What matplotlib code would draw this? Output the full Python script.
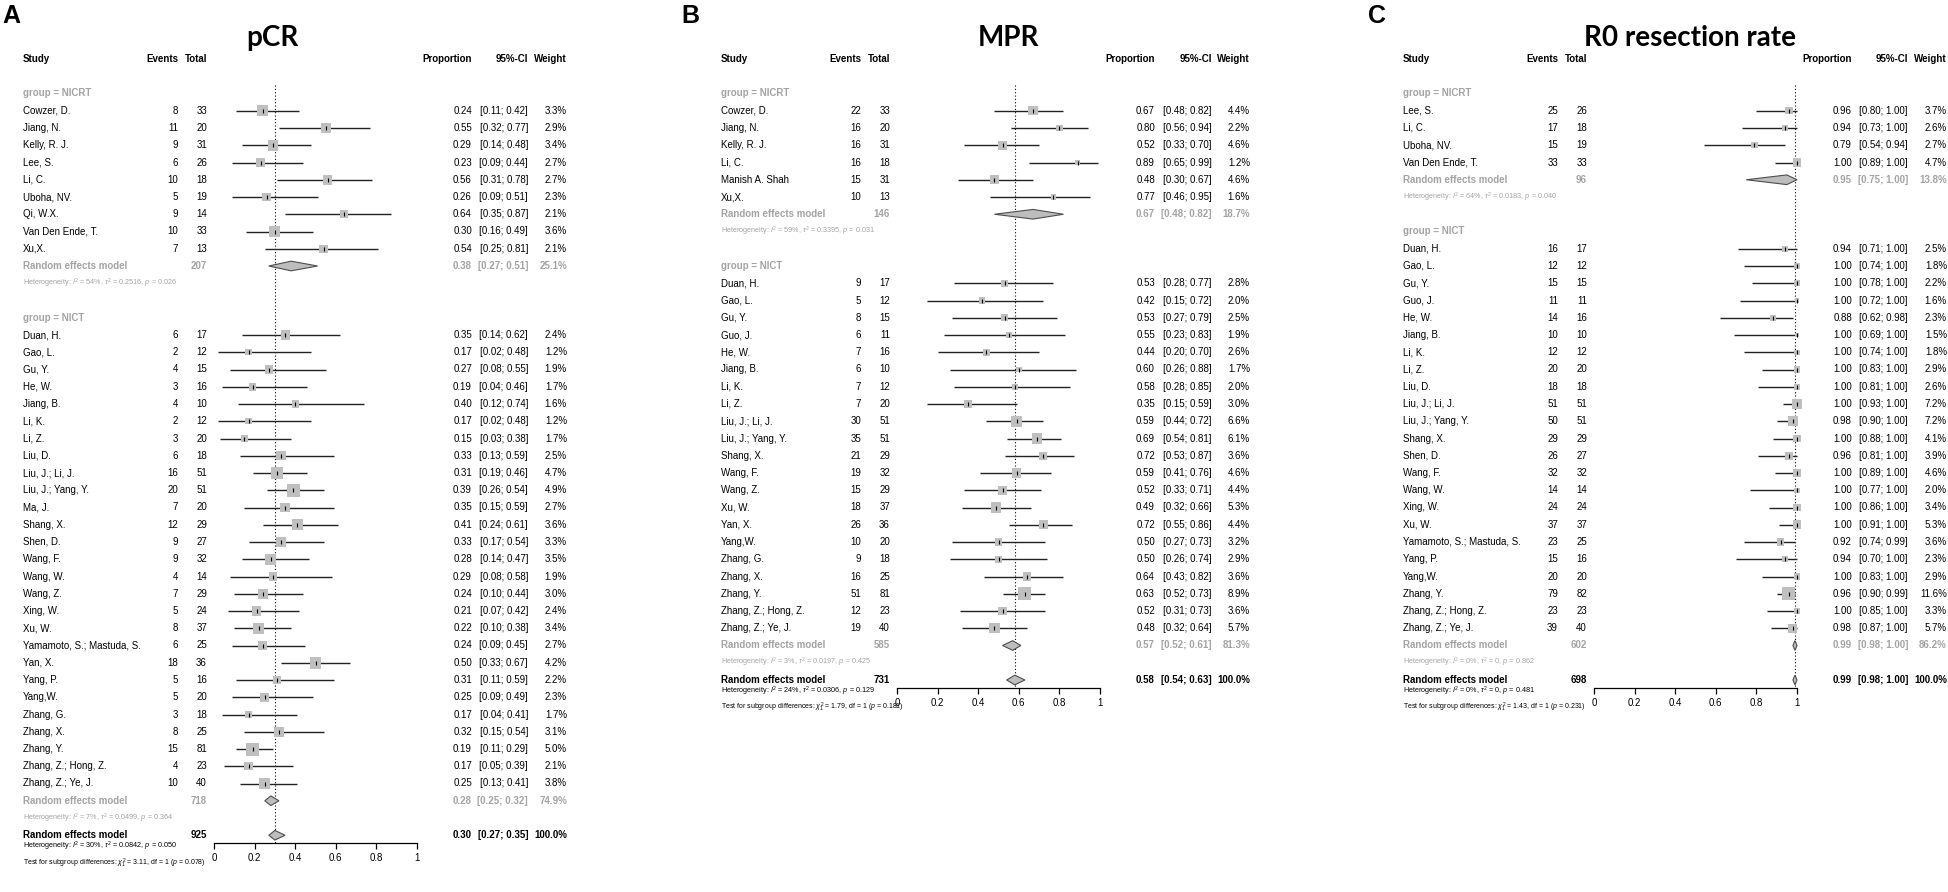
import matplotlib
matplotlib.use('Agg')
import matplotlib.pyplot as plt
import matplotlib.transforms as mtransforms
import numpy as np

plt.rcParams['font.family'] = ['Liberation Sans', 'DejaVu Sans']
plt.rcParams['mathtext.fontset'] = 'custom'
plt.rcParams['mathtext.rm'] = 'Liberation Sans'
plt.rcParams['mathtext.it'] = 'Liberation Sans:italic'
plt.rcParams['mathtext.bf'] = 'Liberation Sans:bold'

# ---------------- pCR ----------------
pcr_nicrt_study = ["Cowzer, D.", "Jiang, N.", "Kelly, R. J.", "Lee, S.", "Li, C.", "Uboha, NV.",
                   "Qi, W.X.", "Van Den Ende, T.", "Xu,X."]
pcr_nicrt_events = [8, 11, 9, 6, 10, 5, 9, 10, 7]
pcr_nicrt_total = [33, 20, 31, 26, 18, 19, 14, 33, 13]
pcr_nicrt_prop = [0.24, 0.55, 0.29, 0.23, 0.56, 0.26, 0.64, 0.30, 0.54]
pcr_nicrt_lo = [0.11, 0.32, 0.14, 0.09, 0.31, 0.09, 0.35, 0.16, 0.25]
pcr_nicrt_hi = [0.42, 0.77, 0.48, 0.44, 0.78, 0.51, 0.87, 0.49, 0.81]
pcr_nicrt_weight = [3.3, 2.9, 3.4, 2.7, 2.7, 2.3, 2.1, 3.6, 2.1]
pcr_nicrt_summary = [207, 0.38, 0.27, 0.51, 25.1]
pcr_nicrt_het = "Heterogeneity: $I^2$ = 54%, $\\tau^2$ = 0.2516, $p$ = 0.026"

pcr_nict_study = ["Duan, H.", "Gao, L.", "Gu, Y.", "He, W.", "Jiang, B.", "Li, K.", "Li, Z.", "Liu, D.",
                  "Liu, J.; Li, J.", "Liu, J.; Yang, Y.", "Ma, J.", "Shang, X.", "Shen, D.", "Wang, F.",
                  "Wang, W.", "Wang, Z.", "Xing, W.", "Xu, W.", "Yamamoto, S.; Mastuda, S.", "Yan, X.",
                  "Yang, P.", "Yang,W.", "Zhang, G.", "Zhang, X.", "Zhang, Y.", "Zhang, Z.; Hong, Z.",
                  "Zhang, Z.; Ye, J."]
pcr_nict_events = [6, 2, 4, 3, 4, 2, 3, 6, 16, 20, 7, 12, 9, 9, 4, 7, 5, 8, 6, 18, 5, 5, 3, 8, 15, 4, 10]
pcr_nict_total = [17, 12, 15, 16, 10, 12, 20, 18, 51, 51, 20, 29, 27, 32, 14, 29, 24, 37, 25, 36, 16, 20,
                  18, 25, 81, 23, 40]
pcr_nict_prop = [0.35, 0.17, 0.27, 0.19, 0.40, 0.17, 0.15, 0.33, 0.31, 0.39, 0.35, 0.41, 0.33, 0.28, 0.29,
                 0.24, 0.21, 0.22, 0.24, 0.50, 0.31, 0.25, 0.17, 0.32, 0.19, 0.17, 0.25]
pcr_nict_lo = [0.14, 0.02, 0.08, 0.04, 0.12, 0.02, 0.03, 0.13, 0.19, 0.26, 0.15, 0.24, 0.17, 0.14, 0.08,
               0.10, 0.07, 0.10, 0.09, 0.33, 0.11, 0.09, 0.04, 0.15, 0.11, 0.05, 0.13]
pcr_nict_hi = [0.62, 0.48, 0.55, 0.46, 0.74, 0.48, 0.38, 0.59, 0.46, 0.54, 0.59, 0.61, 0.54, 0.47, 0.58,
               0.44, 0.42, 0.38, 0.45, 0.67, 0.59, 0.49, 0.41, 0.54, 0.29, 0.39, 0.41]
pcr_nict_weight = [2.4, 1.2, 1.9, 1.7, 1.6, 1.2, 1.7, 2.5, 4.7, 4.9, 2.7, 3.6, 3.3, 3.5, 1.9, 3.0, 2.4, 3.4,
                   2.7, 4.2, 2.2, 2.3, 1.7, 3.1, 5.0, 2.1, 3.8]
pcr_nict_summary = [718, 0.28, 0.25, 0.32, 74.9]
pcr_nict_het = "Heterogeneity: $I^2$ = 7%, $\\tau^2$ = 0.0499, $p$ = 0.364"

pcr_overall = [925, 0.30, 0.27, 0.35, 100.0]
pcr_overall_het = "Heterogeneity: $I^2$ = 30%, $\\tau^2$ = 0.0842, $p$ = 0.050"
pcr_test = "Test for subgroup differences: $\\chi^2_1$ = 3.11, df = 1 ($p$ = 0.078)"

# ---------------- MPR ----------------
mpr_nicrt_study = ["Cowzer, D.", "Jiang, N.", "Kelly, R. J.", "Li, C.", "Manish A. Shah", "Xu,X."]
mpr_nicrt_events = [22, 16, 16, 16, 15, 10]
mpr_nicrt_total = [33, 20, 31, 18, 31, 13]
mpr_nicrt_prop = [0.67, 0.80, 0.52, 0.89, 0.48, 0.77]
mpr_nicrt_lo = [0.48, 0.56, 0.33, 0.65, 0.30, 0.46]
mpr_nicrt_hi = [0.82, 0.94, 0.70, 0.99, 0.67, 0.95]
mpr_nicrt_weight = [4.4, 2.2, 4.6, 1.2, 4.6, 1.6]
mpr_nicrt_summary = [146, 0.67, 0.48, 0.82, 18.7]
mpr_nicrt_het = "Heterogeneity: $I^2$ = 59%, $\\tau^2$ = 0.3395, $p$ = 0.031"

mpr_nict_study = ["Duan, H.", "Gao, L.", "Gu, Y.", "Guo, J.", "He, W.", "Jiang, B.", "Li, K.", "Li, Z.",
                  "Liu, J.; Li, J.", "Liu, J.; Yang, Y.", "Shang, X.", "Wang, F.", "Wang, Z.", "Xu, W.",
                  "Yan, X.", "Yang,W.", "Zhang, G.", "Zhang, X.", "Zhang, Y.", "Zhang, Z.; Hong, Z.",
                  "Zhang, Z.; Ye, J."]
mpr_nict_events = [9, 5, 8, 6, 7, 6, 7, 7, 30, 35, 21, 19, 15, 18, 26, 10, 9, 16, 51, 12, 19]
mpr_nict_total = [17, 12, 15, 11, 16, 10, 12, 20, 51, 51, 29, 32, 29, 37, 36, 20, 18, 25, 81, 23, 40]
mpr_nict_prop = [0.53, 0.42, 0.53, 0.55, 0.44, 0.60, 0.58, 0.35, 0.59, 0.69, 0.72, 0.59, 0.52, 0.49, 0.72,
                 0.50, 0.50, 0.64, 0.63, 0.52, 0.48]
mpr_nict_lo = [0.28, 0.15, 0.27, 0.23, 0.20, 0.26, 0.28, 0.15, 0.44, 0.54, 0.53, 0.41, 0.33, 0.32, 0.55,
               0.27, 0.26, 0.43, 0.52, 0.31, 0.32]
mpr_nict_hi = [0.77, 0.72, 0.79, 0.83, 0.70, 0.88, 0.85, 0.59, 0.72, 0.81, 0.87, 0.76, 0.71, 0.66, 0.86,
               0.73, 0.74, 0.82, 0.73, 0.73, 0.64]
mpr_nict_weight = [2.8, 2.0, 2.5, 1.9, 2.6, 1.7, 2.0, 3.0, 6.6, 6.1, 3.6, 4.6, 4.4, 5.3, 4.4, 3.2, 2.9, 3.6,
                   8.9, 3.6, 5.7]
mpr_nict_summary = [585, 0.57, 0.52, 0.61, 81.3]
mpr_nict_het = "Heterogeneity: $I^2$ = 3%, $\\tau^2$ = 0.0197, $p$ = 0.425"

mpr_overall = [731, 0.58, 0.54, 0.63, 100.0]
mpr_overall_het = "Heterogeneity: $I^2$ = 24%, $\\tau^2$ = 0.0306, $p$ = 0.129"
mpr_test = "Test for subgroup differences: $\\chi^2_1$ = 1.79, df = 1 ($p$ = 0.181)"

# ---------------- R0 resection ----------------
r0_nicrt_study = ["Lee, S.", "Li, C.", "Uboha, NV.", "Van Den Ende, T."]
r0_nicrt_events = [25, 17, 15, 33]
r0_nicrt_total = [26, 18, 19, 33]
r0_nicrt_prop = [0.96, 0.94, 0.79, 1.00]
r0_nicrt_lo = [0.80, 0.73, 0.54, 0.89]
r0_nicrt_hi = [1.00, 1.00, 0.94, 1.00]
r0_nicrt_weight = [3.7, 2.6, 2.7, 4.7]
r0_nicrt_summary = [96, 0.95, 0.75, 1.00, 13.8]
r0_nicrt_het = "Heterogeneity: $I^2$ = 64%, $\\tau^2$ = 0.0183, $p$ = 0.040"

r0_nict_study = ["Duan, H.", "Gao, L.", "Gu, Y.", "Guo, J.", "He, W.", "Jiang, B.", "Li, K.", "Li, Z.",
                 "Liu, D.", "Liu, J.; Li, J.", "Liu, J.; Yang, Y.", "Shang, X.", "Shen, D.", "Wang, F.",
                 "Wang, W.", "Xing, W.", "Xu, W.", "Yamamoto, S.; Mastuda, S.", "Yang, P.", "Yang,W.",
                 "Zhang, Y.", "Zhang, Z.; Hong, Z.", "Zhang, Z.; Ye, J."]
r0_nict_events = [16, 12, 15, 11, 14, 10, 12, 20, 18, 51, 50, 29, 26, 32, 14, 24, 37, 23, 15, 20, 79, 23, 39]
r0_nict_total = [17, 12, 15, 11, 16, 10, 12, 20, 18, 51, 51, 29, 27, 32, 14, 24, 37, 25, 16, 20, 82, 23, 40]
r0_nict_prop = [0.94, 1.00, 1.00, 1.00, 0.88, 1.00, 1.00, 1.00, 1.00, 1.00, 0.98, 1.00, 0.96, 1.00, 1.00,
                1.00, 1.00, 0.92, 0.94, 1.00, 0.96, 1.00, 0.98]
r0_nict_lo = [0.71, 0.74, 0.78, 0.72, 0.62, 0.69, 0.74, 0.83, 0.81, 0.93, 0.90, 0.88, 0.81, 0.89, 0.77,
              0.86, 0.91, 0.74, 0.70, 0.83, 0.90, 0.85, 0.87]
r0_nict_hi = [1.00, 1.00, 1.00, 1.00, 0.98, 1.00, 1.00, 1.00, 1.00, 1.00, 1.00, 1.00, 1.00, 1.00, 1.00,
              1.00, 1.00, 0.99, 1.00, 1.00, 0.99, 1.00, 1.00]
r0_nict_weight = [2.5, 1.8, 2.2, 1.6, 2.3, 1.5, 1.8, 2.9, 2.6, 7.2, 7.2, 4.1, 3.9, 4.6, 2.0, 3.4, 5.3, 3.6,
                  2.3, 2.9, 11.6, 3.3, 5.7]
r0_nict_summary = [602, 0.99, 0.98, 1.00, 86.2]
r0_nict_het = "Heterogeneity: $I^2$ = 0%, $\\tau^2$ = 0, $p$ = 0.862"

r0_overall = [698, 0.99, 0.98, 1.00, 100.0]
r0_overall_het = "Heterogeneity: $I^2$ = 0%, $\\tau^2$ = 0, $p$ = 0.481"
r0_test = "Test for subgroup differences: $\\chi^2_1$ = 1.43, df = 1 ($p$ = 0.231)"

axis_ticks = [0, 0.2, 0.4, 0.6, 0.8, 1]
axis_labels = ["0", "0.2", "0.4", "0.6", "0.8", "1"]

# ---------------- layout ----------------
W, H, DPI = 1949, 892, 100
ROW0, ROWH = 59.0, 17.25
GRAY = '#a3a3a3'
FS = 7.0
FS_SMALL = 5.2
FS_TEST = 5.0

fig = plt.figure(figsize=(W / DPI, H / DPI), dpi=DPI)


def fx(px):
    return px / W


def fy(px):
    return 1 - px / H


def draw_panel(letter, letter_x, title, title_x, cols, groups, overall, overall_het, test_txt):
    study_x, ev_r, tot_r, f0, f1, prop_r, ci_r, w_r = cols

    fig.text(fx(letter_x), fy(16), letter, fontsize=18, fontweight='bold', ha='left', va='center')
    fig.text(fx(title_x), fy(38), title, fontsize=20, fontweight='bold', ha='center', va='center',
             family=['Lato', 'DejaVu Sans'])

    # row bookkeeping: group label, studies, random effects, heterogeneity, blank
    row = 2
    layout = []
    for g in groups:
        n = len(g['study'])
        layout.append((row, list(range(row + 1, row + 1 + n)), row + 1 + n, row + 2 + n))
        row += n + 4
    overall_row = row - 1
    axis_row = overall_row + 0.45
    axis_px = ROW0 + axis_row * ROWH

    ax = fig.add_axes([fx(f0), fy(axis_px), fx(f1 - f0), axis_px / H])
    ax.set_xlim(0, 1)
    ax.set_ylim(axis_row, -ROW0 / ROWH)
    for s in ['left', 'right', 'top']:
        ax.spines[s].set_visible(False)
    ax.spines['bottom'].set_linewidth(0.9)
    ax.set_yticks([])
    ax.set_xticks(axis_ticks)
    ax.set_xticklabels(axis_labels, fontsize=FS)
    ax.tick_params(axis='x', direction='out', length=4, width=0.9, pad=3.5)
    ax.patch.set_alpha(0)

    tr = mtransforms.blended_transform_factory(fig.transFigure, ax.transData)

    def txt(px, y, s, ha='left', **kw):
        kw.setdefault('fontsize', FS)
        ax.text(fx(px), y, s, transform=tr, ha=ha, va='center', **kw)

    # header
    for px, s, ha in [(study_x, 'Study', 'left'), (ev_r, 'Events', 'right'), (tot_r, 'Total', 'right'),
                      (prop_r, 'Proportion', 'right'), (ci_r, '95%-CI', 'right'), (w_r, 'Weight', 'right')]:
        txt(px, 0, s, ha=ha, fontweight='bold')

    wmax = max(max(g['weight']) for g in groups)

    def diamond(est, lo, hi, y, h=0.28):
        ax.fill([lo, est, hi, est], [y, y - h, y, y + h], facecolor='#bdbdbd', edgecolor='#4d4d4d',
                linewidth=0.8, clip_on=False, zorder=3)

    for g, (grow, srows, rrow, hrow) in zip(groups, layout):
        txt(study_x, grow, g['label'], color=GRAY, fontweight='bold')
        srows = np.array(srows)
        w = np.array(g['weight'])
        sizes = (13 * np.sqrt(w / wmax) * 72 / DPI) ** 2
        ax.hlines(srows, g['lo'], g['hi'], color='#222222', linewidth=1.0, zorder=2, clip_on=False)
        ax.scatter(g['prop'], srows, s=sizes, marker='s', color='#bfbfbf', linewidths=0, zorder=3,
                   clip_on=False)
        ax.scatter(g['prop'], srows, s=12, marker='|', color='black', linewidths=0.8, zorder=4,
                   clip_on=False)
        for r, st, e, t, p, lo, hi, wt in zip(srows, g['study'], g['events'], g['total'], g['prop'],
                                              g['lo'], g['hi'], g['weight']):
            txt(study_x, r, st)
            txt(ev_r, r, str(e), ha='right')
            txt(tot_r, r, str(t), ha='right')
            txt(prop_r, r, f"{p:.2f}", ha='right')
            txt(ci_r, r, f"[{lo:.2f}; {hi:.2f}]", ha='right')
            txt(w_r, r, f"{wt:.1f}%", ha='right')
        n, est, lo, hi, wt = g['summary']
        diamond(est, lo, hi, rrow)
        txt(study_x, rrow, 'Random effects model', color=GRAY, fontweight='bold')
        txt(tot_r, rrow, str(n), ha='right', color=GRAY, fontweight='bold')
        txt(prop_r, rrow, f"{est:.2f}", ha='right', color=GRAY, fontweight='bold')
        txt(ci_r, rrow, f"[{lo:.2f}; {hi:.2f}]", ha='right', color=GRAY, fontweight='bold')
        txt(w_r, rrow, f"{wt:.1f}%", ha='right', color=GRAY, fontweight='bold')
        txt(study_x, hrow, g['het'], color=GRAY, fontsize=FS_SMALL)

    n, est, lo, hi, wt = overall
    ax.vlines(est, 1.5, axis_row, color='black', linewidth=0.8, linestyle=(0, (1, 2)), zorder=1)
    diamond(est, lo, hi, overall_row)
    txt(study_x, overall_row, 'Random effects model', fontweight='bold')
    txt(tot_r, overall_row, str(n), ha='right', fontweight='bold')
    txt(prop_r, overall_row, f"{est:.2f}", ha='right', fontweight='bold')
    txt(ci_r, overall_row, f"[{lo:.2f}; {hi:.2f}]", ha='right', fontweight='bold')
    txt(w_r, overall_row, f"{wt:.1f}%", ha='right', fontweight='bold')
    txt(study_x, overall_row + 0.65, overall_het, fontsize=FS_SMALL)
    txt(study_x, overall_row + 1.6, test_txt, fontsize=FS_TEST)


def group(label, study, events, total, prop, lo, hi, weight, summary, het):
    return dict(label=label, study=study, events=events, total=total, prop=prop, lo=lo, hi=hi,
                weight=weight, summary=summary, het=het)


draw_panel('A', 2, 'pCR', 272, (23, 178, 207, 214, 417, 472, 528, 567),
           [group('group = NICRT', pcr_nicrt_study, pcr_nicrt_events, pcr_nicrt_total, pcr_nicrt_prop,
                  pcr_nicrt_lo, pcr_nicrt_hi, pcr_nicrt_weight, pcr_nicrt_summary, pcr_nicrt_het),
            group('group = NICT', pcr_nict_study, pcr_nict_events, pcr_nict_total, pcr_nict_prop,
                  pcr_nict_lo, pcr_nict_hi, pcr_nict_weight, pcr_nict_summary, pcr_nict_het)],
           pcr_overall, pcr_overall_het, pcr_test)

draw_panel('B', 681, 'MPR', 1008, (721, 861, 890, 897, 1100, 1155, 1212, 1250),
           [group('group = NICRT', mpr_nicrt_study, mpr_nicrt_events, mpr_nicrt_total, mpr_nicrt_prop,
                  mpr_nicrt_lo, mpr_nicrt_hi, mpr_nicrt_weight, mpr_nicrt_summary, mpr_nicrt_het),
            group('group = NICT', mpr_nict_study, mpr_nict_events, mpr_nict_total, mpr_nict_prop,
                  mpr_nict_lo, mpr_nict_hi, mpr_nict_weight, mpr_nict_summary, mpr_nict_het)],
           mpr_overall, mpr_overall_het, mpr_test)

draw_panel('C', 1368, 'R0 resection rate', 1690, (1403, 1558, 1587, 1594, 1797, 1852, 1908, 1947),
           [group('group = NICRT', r0_nicrt_study, r0_nicrt_events, r0_nicrt_total, r0_nicrt_prop,
                  r0_nicrt_lo, r0_nicrt_hi, r0_nicrt_weight, r0_nicrt_summary, r0_nicrt_het),
            group('group = NICT', r0_nict_study, r0_nict_events, r0_nict_total, r0_nict_prop,
                  r0_nict_lo, r0_nict_hi, r0_nict_weight, r0_nict_summary, r0_nict_het)],
           r0_overall, r0_overall_het, r0_test)

fig.savefig('out.png', dpi=DPI, facecolor='white')
